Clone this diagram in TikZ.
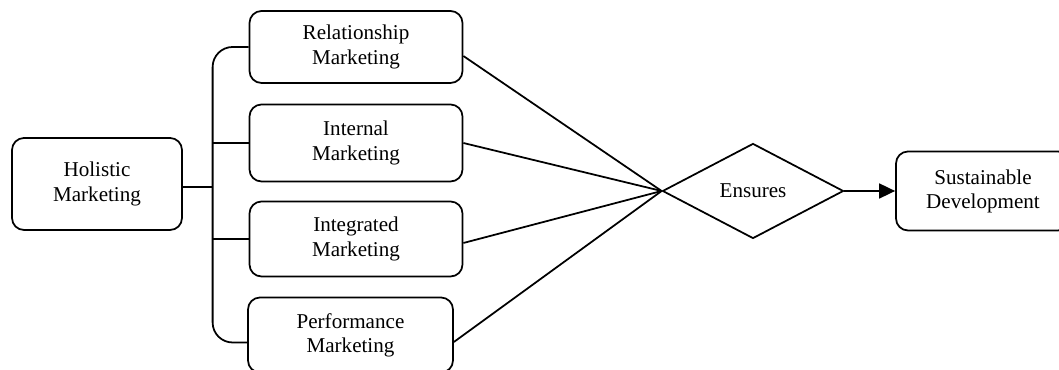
\documentclass[tikz,border=0pt]{standalone}
\usepackage{fontspec}
\setmainfont{Liberation Serif}
\usetikzlibrary{positioning, shapes.geometric, arrows.meta, calc}

\begin{document}
\begin{tikzpicture}[node distance=1.92cm, on grid, line width=1pt,
        mbox/.style={draw, rounded corners=0.24cm, align=center, inner sep=0pt,
            minimum width=4.26cm, minimum height=1.5cm, font=\fontsize{12}{13.7}\selectfont},
        decision/.style={draw, diamond, inner sep=0pt, minimum width=3.62cm,
            minimum height=1.9cm, font=\fontsize{12}{13.7}\selectfont}]

        \useasboundingbox (-1.94,-3.72) rectangle (19.24,3.68);

        \node[mbox, minimum width=3.4cm, minimum height=1.84cm] (hol) {Holistic\\Marketing};
        \node[mbox, above right=2.74cm and 5.18cm of hol, minimum height=1.44cm] (rel) {Relationship\\Marketing};
        \node[mbox, below=of rel, minimum height=1.54cm] (int) {Internal\\Marketing};
        \node[mbox, below=of int] (integ) {Integrated\\Marketing};
        \node[mbox, below=of integ, xshift=-0.11cm, minimum width=4.1cm] (perf) {Performance\\Marketing};

        \node[decision] (ens) at ($(int)!0.5!(integ) + (7.94,0)$) {Ensures};
        \node[mbox, right=4.6cm of ens, minimum width=3.48cm, minimum height=1.58cm] (sus) {Sustainable\\Development};

        % bracket on the left
        \coordinate (brk) at ([xshift=-0.72cm]rel.west);
        \draw[rounded corners=0.4cm] (rel.west) -- (brk) |- ([yshift=-0.15cm]perf.west);
        \draw (int.west) -- (int.west -| brk);
        \draw (integ.west) -- (integ.west -| brk);
        \draw ([yshift=-0.06cm]hol.east) -- ([yshift=-0.06cm]hol.east -| brk);

        % into the diamond
        \draw ([yshift=-0.18cm]rel.east) -- (ens.west);
        \draw (int.east) -- (ens.west);
        \draw ([yshift=-0.08cm]integ.east) -- (ens.west);
        \draw ([yshift=-0.14cm]perf.east) -- (ens.west);
        \draw[-{Triangle[length=0.32cm, width=0.3cm]}] (ens.east) -- (sus.west);

    \end{tikzpicture}
\end{document}
